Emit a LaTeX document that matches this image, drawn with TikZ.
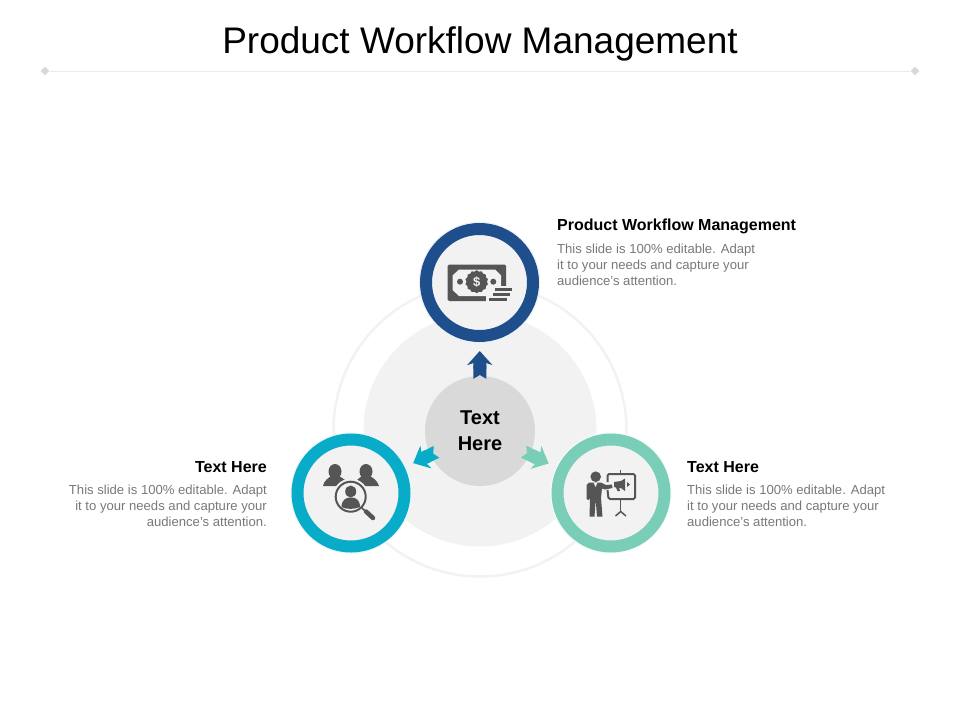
\documentclass[tikz,border=0pt]{standalone}
\usepackage{fontspec}
\setmainfont{Liberation Sans}
\usetikzlibrary{shapes, arrows.meta, positioning}
\definecolor{ringblue}{RGB}{30, 78, 140}
\definecolor{ringteal}{RGB}{8, 172, 200}
\definecolor{ringmint}{RGB}{122, 205, 182}
\definecolor{icongray}{RGB}{85, 85, 85}
\definecolor{softgray}{RGB}{242, 242, 242}
\definecolor{hubgray}{RGB}{217, 217, 217}
\definecolor{bodygray}{RGB}{120, 120, 120}
\tikzset{
  stagering/.style={circle, draw=#1, line width=12pt, fill=softgray, minimum size=107pt, inner sep=0pt,
    preaction={draw=#1!8, line width=14.5pt}},
  flowarrow/.style={draw=#1, line width=13pt, {Triangle Cap[reversed, cap angle=120]}-{Stealth[length=14pt, width=25pt, inset=4pt]}},
  headtext/.style={font=\fontsize{16}{19}\selectfont\bfseries, inner sep=0pt, text=black},
  bodytext/.style={font=\fontsize{13.1}{16}\selectfont, inner sep=0pt, text=bodygray},
  endmark/.style={diamond, fill=hubgray, minimum size=9pt, inner sep=0pt}
}
\begin{document}
\begin{tikzpicture}[x=1pt, y=-1pt]
  \useasboundingbox (0,0) rectangle (960,720);

  % Title and rule
  \node[font=\fontsize{37}{44}\selectfont, inner sep=0pt] (title) at (480,44) {Product Workflow Management};
  \node[endmark] (ruleL) at (45,71) {};
  \node[endmark] (ruleR) at (915,71) {};
  \draw[draw=black!8, line width=0.8pt] (ruleL) -- (ruleR);

  % Backdrop circles
  \node[circle, draw=softgray, line width=2.5pt, minimum size=293pt, inner sep=0pt] (outer) at (480,430) {};
  \node[circle, fill=softgray, minimum size=233pt, inner sep=0pt] (inner) at (480,430) {};

  % Stage rings
  \node[stagering=ringblue] (money) at (479.5,282.5) {};
  \node[stagering=ringteal] (people) at (351,493) {};
  \node[stagering=ringmint] (talk) at (611,493) {};

  % Hub
  \node[circle, fill=hubgray, minimum size=110pt, inner sep=0pt, align=center, font=\fontsize{20}{26}\selectfont\bfseries] (hub) at (480,431) {Text\\Here};

  % Arrows
  \draw[flowarrow=ringblue, shorten <=-3pt, shorten >=9pt] (hub) -- (money);
  \draw[flowarrow=ringteal, yshift=-5pt, shorten <=-7pt, shorten >=9.5pt] (hub) -- (people);
  \draw[flowarrow=ringmint, yshift=-6pt, shorten <=-7pt, shorten >=9.5pt] (hub) -- (talk);

  % Money icon
  \fill[icongray, rounded corners=1.5pt] (447.5,264.5) rectangle (506,301);
  \fill[softgray] (459,269.5) -- (495,269.5) -- (501,275.5) -- (501,290) -- (495,296) -- (459,296) -- (452.5,290) -- (452.5,275.5) -- cycle;
  \fill[softgray] (486,285.5) rectangle (514,303);
  \fill[icongray] (495,287.5) rectangle (512,291);
  \fill[icongray] (492.5,292.8) rectangle (510,296.2);
  \fill[icongray] (489,297.8) rectangle (506.5,301);
  \node[star, star points=14, star point ratio=1.12, fill=icongray, minimum size=23pt, inner sep=0pt] (seal) at (476.7,281.7) {};
  \node[text=softgray, inner sep=0pt, font=\fontsize{13}{13}\selectfont\bfseries] (dollar) at (476.7,281.7) {\$};
  \fill[icongray] (460,281.7) circle (3pt) (493.3,281.7) circle (3pt);

  % People icon
  \fill[icongray] (335,471.5) ellipse (6.5pt and 7.5pt);
  \fill[icongray] (366,471.5) ellipse (6.5pt and 7.5pt);
  \fill[icongray] (323,486) .. controls (324,480) and (329,478) .. (331,476) -- (339,476) .. controls (342,478) and (347,480) .. (349,486) -- cycle;
  \fill[icongray] (353,486) .. controls (355,480) and (360,478) .. (362,476) -- (370,476) .. controls (373,478) and (377,480) .. (379,486) -- cycle;
  \fill[softgray] (350.7,496.7) circle (18pt);
  \draw[icongray, line width=2pt] (350.7,496.7) circle (15pt);
  \fill[icongray] (350.7,491.5) ellipse (5.5pt and 6pt);
  \fill[icongray] (341.5,507) .. controls (341.5,500) and (346,498) .. (349,497.5) -- (352.5,497.5) .. controls (356,498) and (360,500) .. (360,507) .. controls (355,509.5) and (346,509.5) .. (341.5,507) -- cycle;
  \draw[icongray, line width=1.5pt] (361.5,507.5) -- (366,512);
  \draw[icongray, line width=4.5pt, line cap=round] (366,511.5) -- (373,518);

  % Presenter icon
  \fill[icongray] (595.7,476.7) circle (5.3pt);
  \fill[icongray] (589,482.5) -- (601,482.5) -- (606,485) -- (612,484.5) -- (612.5,488) -- (605,489.5) -- (602,488.5) -- (601,498) -- (602.5,516.5) -- (597,516.5) -- (595.7,500) -- (594.5,516.5) -- (589.5,516.5) -- (590,498) -- (588.5,500) -- (586.5,499) -- (586.5,485) -- cycle;
  \fill[softgray] (593.5,482.5) -- (597.5,482.5) -- (595.5,487) -- cycle;
  \draw[icongray, line width=2pt, rounded corners=1.5pt] (607.5,482) -- (607.5,474) -- (635,474) -- (635,499) -- (608.5,499) -- (607.5,490);
  \draw[icongray, line width=1.5pt] (620.7,470) -- (620.7,474) (620.7,499) -- (620.7,511.5);
  \draw[icongray, line width=1.5pt] (615.5,516) -- (620.7,511.5) -- (626,516);
  \fill[icongray] (614,482) -- (621,481) -- (625,478.5) -- (625,491) -- (621,488) -- (619,488) -- (620,491) -- (617.5,491) -- (616,487.5) -- (614,487) -- cycle;
  \fill[icongray] (627,482) -- (630,484.5) -- (627,487) -- cycle;

  % Top label
  \node[headtext, anchor=west] (topHead) at (557,226) {Product Workflow Management};
  \node[bodytext, anchor=north west, align=left] (topBody) at (557,244) {This slide is 100\% editable. Adapt\\it to your needs and capture your\\audience's attention.};

  % Left label
  \node[headtext, anchor=east] (leftHead) at (267,467) {Text Here};
  \node[bodytext, anchor=north east, align=right] (leftBody) at (267,485) {This slide is 100\% editable. Adapt\\it to your needs and capture your\\audience's attention.};

  % Right label
  \node[headtext, anchor=west] (rightHead) at (687,467) {Text Here};
  \node[bodytext, anchor=north west, align=left] (rightBody) at (687,485) {This slide is 100\% editable. Adapt\\it to your needs and capture your\\audience's attention.};
\end{tikzpicture}
\end{document}
